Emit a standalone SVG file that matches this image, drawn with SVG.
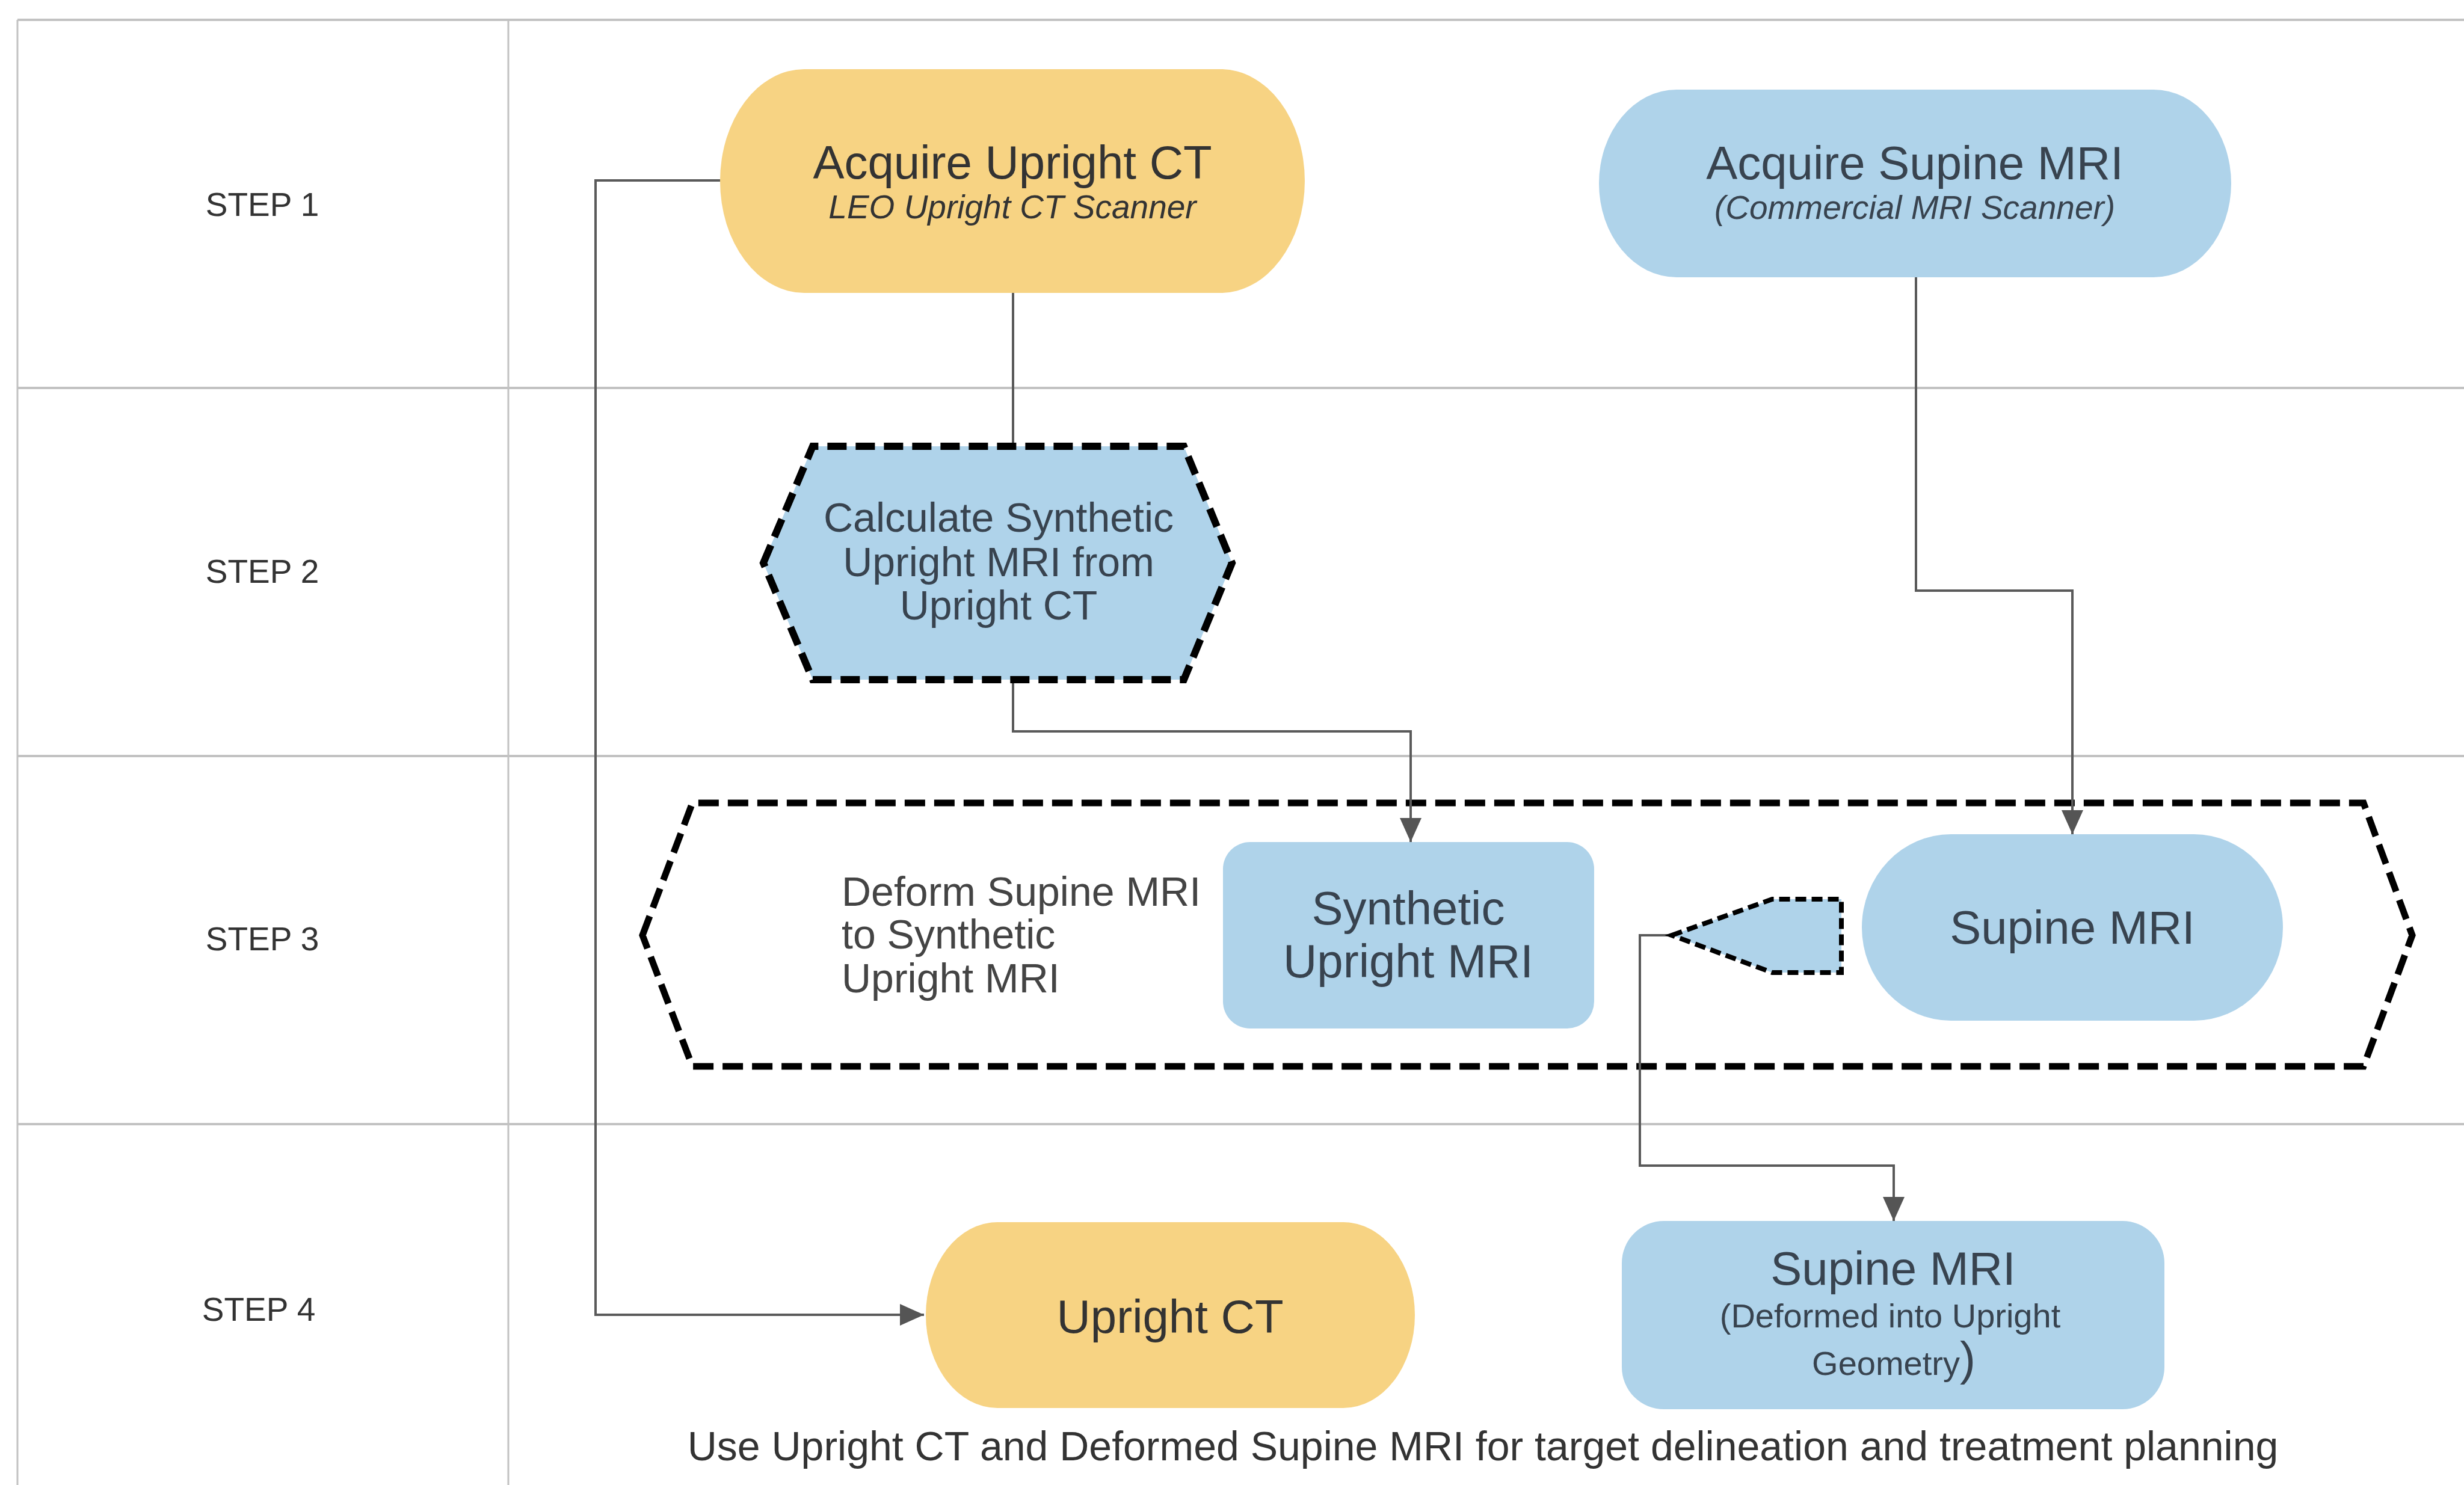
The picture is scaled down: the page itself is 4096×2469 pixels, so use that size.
<svg xmlns="http://www.w3.org/2000/svg" width="4096" height="2469" viewBox="0 0 4096 2469">
<style>
text{font-family:"Liberation Sans",Arial,sans-serif;}
.lane{stroke:#c2c2c2;stroke-width:4;fill:none;}
.lanev{stroke:#c2c2c2;stroke-width:3;fill:none;}
.step{font-size:55px;fill:#333;text-anchor:middle;}
.yel{fill:#F7D383;}
.blu{fill:#AFD3EA;}
.t78{font-size:78px;text-anchor:middle;}
.t56i{font-size:55px;font-style:italic;text-anchor:middle;}
.t68{font-size:68px;text-anchor:middle;}
.dk{fill:#333;}
.bk{fill:#38434f;}
.conn{fill:none;stroke:#5a5a5a;stroke-width:4;}
.dash{stroke:#000;stroke-width:12;stroke-dasharray:32 15;stroke-linejoin:miter;}
</style>
<defs>
<marker id="ah" markerUnits="userSpaceOnUse" markerWidth="40" markerHeight="36" refX="40" refY="18" orient="auto">
<path d="M0,0 L40,18 L0,36 Z" fill="#555"/>
</marker>
</defs>
<rect width="4096" height="2469" fill="#fff"/>
<g id="lanes">
<path class="lane" d="M29,33 H4096 M29,645 H4096 M29,1257 H4096 M29,1869 H4096"/>
<path class="lanev" d="M29,33 V2469 M845,33 V2469"/>
<text class="step" x="436" y="359">STEP 1</text>
<text class="step" x="436" y="969">STEP 2</text>
<text class="step" x="436" y="1580">STEP 3</text>
<text class="step" x="430" y="2196">STEP 4</text>
</g>
<g id="step3-group">
<polygon points="1068,1555 1151,1335 3929,1335 4010,1555 3929,1773 1151,1773" fill="none" stroke="#000" stroke-width="11" stroke-dasharray="34 15"/>
<text x="1399" y="1506" font-size="68" fill="#444">Deform Supine MRI</text>
<text x="1399" y="1577" font-size="68" fill="#444">to Synthetic</text>
<text x="1399" y="1650" font-size="68" fill="#444">Upright MRI</text>
</g>
<g id="connectors">
<path class="conn" d="M1684,487 V742"/>
<path class="conn" d="M1684,1130 V1216 H2345 V1400" marker-end="url(#ah)"/>
<path class="conn" d="M3185,461 V982 H3445 V1387" marker-end="url(#ah)"/>
<path class="conn" d="M1197,300 H990 V2186 H1536" marker-end="url(#ah)"/>
<path class="conn" d="M2779,1555 H2726 V1938 H3148 V2030" marker-end="url(#ah)"/>
</g>
<g id="acquire-upright-ct">
<rect class="yel" x="1197" y="115" width="972" height="372" rx="140" ry="186"/>
<text class="t78 dk" x="1683" y="297">Acquire Upright CT</text>
<text class="t56i dk" x="1683" y="363">LEO Upright CT Scanner</text>
</g>
<g id="acquire-supine-mri">
<rect class="blu" x="2658" y="149" width="1051" height="312" rx="129" ry="156"/>
<text class="t78 bk" x="3183" y="298">Acquire Supine MRI</text>
<text class="t56i bk" x="3183" y="364">(Commercial MRI Scanner)</text>
</g>
<g id="calc-synthetic">
<polygon class="blu dash" points="1269,936 1351,742 1968,742 2048,936 1968,1130 1351,1130"/>
<text class="t68 bk" x="1660" y="884">Calculate Synthetic</text>
<text class="t68 bk" x="1660" y="958">Upright MRI from</text>
<text class="t68 bk" x="1660" y="1030">Upright CT</text>
</g>
<g id="synthetic-upright-mri">
<rect class="blu" x="2033" y="1400" width="617" height="310" rx="45"/>
<text class="t78 bk" x="2341" y="1537">Synthetic</text>
<text class="t78 bk" x="2341" y="1625">Upright MRI</text>
</g>
<g id="deform-op">
<polygon class="blu" points="2779,1555 2946,1495 3061,1495 3061,1617 2946,1617" stroke="#000" stroke-width="8" stroke-dasharray="18 9"/>
</g>
<g id="supine-mri">
<rect class="blu" x="3095" y="1387" width="700" height="310" rx="148" ry="155"/>
<text class="t78 bk" x="3445" y="1569">Supine MRI</text>
</g>
<g id="upright-ct">
<rect class="yel" x="1539" y="2032" width="813" height="309" rx="119" ry="155"/>
<text class="t78 dk" x="1945" y="2216" font-size="76">Upright CT</text>
</g>
<g id="supine-mri-deformed">
<rect class="blu" x="2696" y="2030" width="902" height="313" rx="70"/>
<text class="t78 bk" x="3147" y="2136">Supine MRI</text>
<text class="bk" x="3142" y="2207" font-size="56" text-anchor="middle">(Deformed into Upright</text>
<text class="bk" x="3148" y="2286" font-size="56" text-anchor="middle">Geometry<tspan font-size="78">)</tspan></text>
</g>
<g id="footer">
<text class="t68 dk" x="2465" y="2428">Use Upright CT and Deformed Supine MRI for target delineation and treatment planning</text>
</g>
</svg>
